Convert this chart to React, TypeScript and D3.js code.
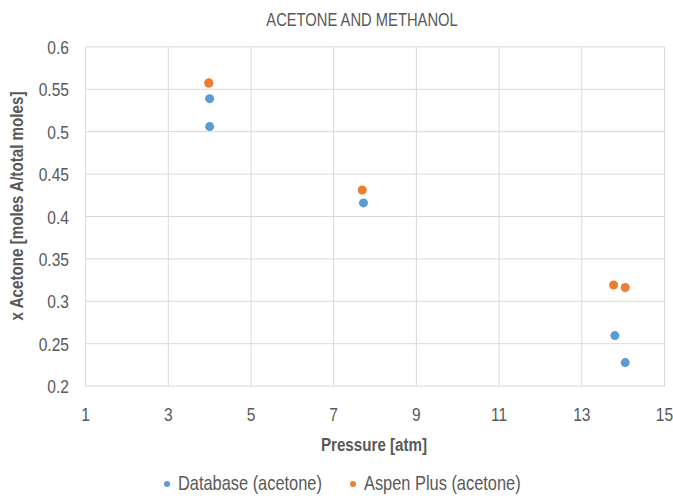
import React from "react";
import * as d3 from "d3";

const dbX = [4, 4, 7.72, 13.8, 14.05];
const dbY = [0.539, 0.506, 0.416, 0.2596, 0.2277];
const aspenX = [3.98, 3.98, 7.69, 13.77, 14.05];
const aspenY = [0.5574, 0.5574, 0.4312, 0.3192, 0.3163];
const xTicks = [1, 3, 5, 7, 9, 11, 13, 15];
const yTicks = [0.2, 0.25, 0.3, 0.35, 0.4, 0.45, 0.5, 0.55, 0.6];
const seriesNames = ["Database (acetone)", "Aspen Plus (acetone)"];
const colors = ["#5B9BD5", "#ED7D31"];

const W = 673;
const H = 500;
const FONT = "'Liberation Sans', Arial, sans-serif";
const SQ = 0.82;
const GREY = "#595959";

function NText(props: {
  x: number;
  y: number;
  anchor?: string;
  size: number;
  bold?: boolean;
  rotate?: number;
  children: React.ReactNode;
}) {
  const { x, y, anchor = "start", size, bold, rotate = 0, children } = props;
  return (
    <g transform={`translate(${x},${y}) rotate(${rotate}) scale(${SQ},1)`}>
      <text
        x={0}
        y={0}
        textAnchor={anchor}
        fontFamily={FONT}
        fontSize={size}
        fontWeight={bold ? "bold" : "normal"}
        fill={GREY}
      >
        {children}
      </text>
    </g>
  );
}

export default function App() {
  const x = d3.scaleLinear().domain([1, 15]).range([85.6, 664.5]);
  const y = d3.scaleLinear().domain([0.2, 0.6]).range([386.1, 46.9]);
  const series = [
    { xs: dbX, ys: dbY },
    { xs: aspenX, ys: aspenY },
  ];
  const legendX = [167, 353];
  return (
    <svg width={W} height={H} style={{ position: "absolute", left: 0, top: 0, background: "#fff" }}>
      <rect width={W} height={H} fill="#fff" />
      <NText x={362} y={26} anchor="middle" size={18}>
        ACETONE AND METHANOL
      </NText>
      {yTicks.map((t) => (
        <g key={"y" + t}>
          <line x1={x(1)} x2={x(15)} y1={y(t)} y2={y(t)} stroke="#D9D9D9" strokeWidth={1} />
          <NText x={69} y={y(t) + 7} anchor="end" size={19}>
            {d3.format("")(t)}
          </NText>
        </g>
      ))}
      {xTicks.map((t) => (
        <g key={"x" + t}>
          <line x1={x(t)} x2={x(t)} y1={y(0.6)} y2={y(0.2)} stroke="#D9D9D9" strokeWidth={1} />
          <NText x={x(t)} y={421} anchor="middle" size={19}>
            {t}
          </NText>
        </g>
      ))}
      <NText x={374} y={451} anchor="middle" size={18.5} bold>
        Pressure [atm]
      </NText>
      <NText x={23} y={206} anchor="middle" size={18.5} bold rotate={-90}>
        x Acetone [moles A/total moles]
      </NText>
      {series.map((s, si) =>
        s.xs.map((xv, i) => (
          <circle key={si + "-" + i} cx={x(xv)} cy={y(s.ys[i])} r={4.5} fill={colors[si]} />
        ))
      )}
      {seriesNames.map((n, i) => (
        <g key={n}>
          <circle cx={legendX[i]} cy={484} r={3} fill={colors[i]} />
          <NText x={legendX[i] + 11} y={490} size={20}>
            {n}
          </NText>
        </g>
      ))}
    </svg>
  );
}
